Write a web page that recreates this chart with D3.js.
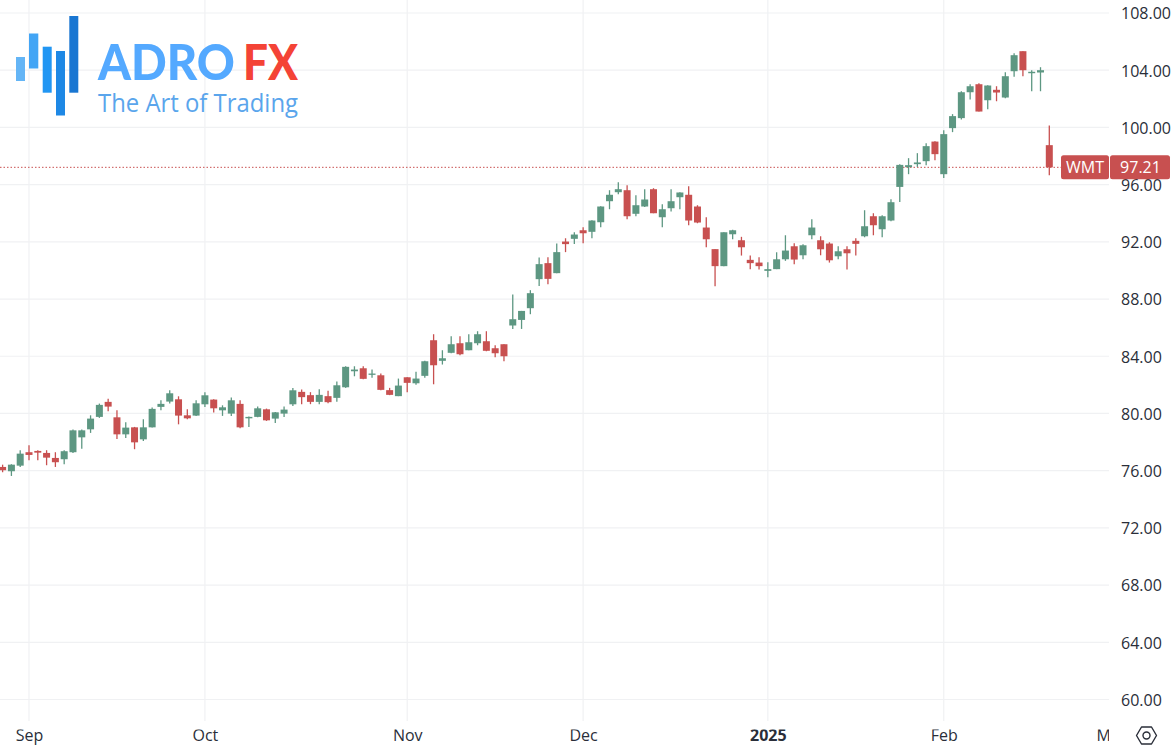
<!DOCTYPE html>
<html><head><meta charset="utf-8">
<script src="https://cdn.jsdelivr.net/npm/d3@7"></script>
<style>
html,body{margin:0;padding:0;background:#fff;overflow:hidden}
svg{display:block}
text{font-family:"Open Sans",sans-serif}
</style></head><body>
<svg id="c" width="1176" height="754"></svg>
<script>
const symbol = "WMT";
const lastPrice = 97.21;
const yTicks = [60,64,68,72,76,80,84,88,92,96,100,104,108];
const xTickSessions = [0,20,43,63,84,104,123];
const xTickLabels = ["Sep","Oct","Nov","Dec","2025","Feb","Mar"];
const firstSession = -3;
const opens = [76.26,75.96,76.35,
77.29,77.38,77.24,76.89,76.80,77.29,78.33,78.89,79.76,80.81,
79.73,78.54,79.03,78.19,79.03,80.46,80.83,80.99,79.87,79.85,
80.64,80.97,80.22,79.99,80.67,79.66,79.76,80.29,79.64,79.99,
80.64,81.51,81.28,80.81,81.21,81.09,81.83,82.95,83.16,82.70,
82.67,81.63,81.21,82.53,82.11,82.63,85.12,83.68,84.24,84.91,
84.42,84.91,85.05,84.56,84.84,86.15,86.54,87.36,89.39,90.51,
89.81,92.02,92.21,92.81,92.70,93.37,94.84,95.47,95.61,93.96,
94.47,95.68,93.72,94.35,95.12,95.29,94.47,93.00,91.49,90.30,
92.53,92.11,90.74,90.55,89.97,90.09,90.78,91.69,91.06,92.46,
92.11,91.88,90.99,91.48,92.07,92.39,93.79,92.88,93.49,95.84,
97.22,97.43,97.64,99.01,96.73,99.95,100.65,102.46,103.02,101.90,
102.63,102.09,103.93,105.33,103.79,103.84,98.76];
const closes = [76.03,76.42,77.19,
77.10,77.26,76.91,76.59,77.36,78.82,78.82,79.64,80.60,80.48,
78.54,79.01,77.98,79.03,80.32,80.67,81.41,79.85,79.66,80.71,
81.27,80.36,80.43,80.92,79.03,79.76,80.36,79.52,80.08,80.27,
81.62,81.14,80.81,81.30,80.79,81.97,83.26,83.07,82.42,82.79,
81.65,81.30,81.95,82.14,82.44,83.65,83.37,83.86,84.84,84.14,
84.98,85.54,84.38,84.21,84.00,86.59,87.17,88.41,90.44,89.41,
91.28,91.84,92.51,92.60,93.49,94.47,95.29,95.68,93.79,94.56,
94.96,94.00,94.28,94.84,95.45,93.49,93.35,92.18,90.30,92.67,
92.81,91.62,90.51,90.30,90.09,90.78,91.39,90.76,91.76,93.00,
91.48,90.71,91.34,91.20,91.86,93.09,93.16,93.79,94.77,97.38,
97.36,97.55,98.69,98.13,99.53,100.79,102.46,102.88,101.11,102.93,
102.44,103.58,105.05,104.00,103.89,104.00,97.21];
const highs = [76.42,76.45,77.43,
77.78,77.43,77.43,77.29,77.43,78.87,78.87,79.87,80.69,81.02,
80.22,79.38,79.06,79.59,80.41,80.92,81.62,81.20,80.29,80.92,
81.48,81.00,80.57,81.11,80.92,79.78,80.48,80.34,80.11,80.48,
81.78,81.67,81.49,81.69,81.58,82.23,83.30,83.30,83.30,83.07,
82.79,81.79,82.44,82.53,82.91,83.68,85.54,84.42,85.40,85.40,
85.54,85.75,85.75,84.77,84.84,88.32,87.17,88.62,90.90,90.93,
91.88,92.25,92.67,93.02,93.51,94.49,95.61,96.17,95.96,95.26,
95.68,95.75,94.63,95.68,95.47,95.89,94.56,93.72,91.49,92.67,
92.84,92.35,91.04,90.92,90.58,91.27,92.46,91.90,91.83,93.58,
92.39,91.97,91.69,91.69,92.25,94.21,94.00,93.86,94.98,97.43,
97.85,98.20,98.90,99.04,99.81,100.93,102.53,103.02,103.09,102.95,
102.88,103.86,105.19,105.33,104.00,104.21,100.13];
const lows = [75.89,75.63,76.26,
76.73,76.73,76.38,76.26,76.45,77.24,77.54,78.64,79.69,80.15,
78.22,78.29,77.50,78.08,79.01,80.22,80.69,79.24,79.59,79.83,
80.46,80.06,79.83,79.83,78.96,79.06,79.73,79.48,79.34,79.76,
80.53,80.65,80.65,80.65,80.72,80.81,81.79,82.60,82.39,82.49,
81.63,81.28,81.21,81.49,82.00,82.49,82.04,83.42,84.21,84.07,
84.42,84.77,84.35,83.93,83.65,85.91,85.91,86.94,88.92,89.04,
89.81,91.28,91.84,91.90,92.25,93.02,94.28,95.33,93.58,93.79,
94.44,94.00,93.02,94.12,94.28,93.16,93.30,91.63,88.90,90.30,
92.18,91.04,90.09,90.06,89.53,90.09,90.67,90.44,90.78,92.18,
91.06,90.55,90.78,90.06,91.04,92.32,92.46,92.32,93.44,94.79,
96.73,97.24,97.36,97.71,96.47,99.67,100.55,101.95,101.11,101.27,
101.83,102.04,103.54,103.58,102.53,102.53,96.66];

const UP="#5d9782", DOWN="#c85050", GRID="#f0f1f3", INK="#2a2e39";
const plotR=1109;
const svg=d3.select("#c");
const x=d3.scaleLinear().domain([0,116]).range([29,1049.3]);
const y=d3.scaleLinear().domain([60,108]).range([699.5,13]);
svg.append("defs").append("clipPath").attr("id","plot").append("rect")
  .attr("x",0).attr("y",0).attr("width",plotR).attr("height",754);

// grid
const grid=svg.append("g").attr("clip-path","url(#plot)");
grid.selectAll("line.h").data(yTicks).join("line").attr("class","h")
  .attr("x1",0).attr("x2",plotR).attr("y1",d=>y(d)).attr("y2",d=>y(d)).attr("stroke",GRID).attr("stroke-width",1.2);
grid.selectAll("line.v").data(xTickSessions).join("line").attr("class","v")
  .attr("x1",d=>x(d)).attr("x2",d=>x(d)).attr("y1",0).attr("y2",721).attr("stroke",GRID).attr("stroke-width",1.2);

// price line
svg.append("line").attr("x1",0).attr("x2",1062).attr("y1",y(lastPrice)).attr("y2",y(lastPrice))
  .attr("stroke",DOWN).attr("stroke-width",1).attr("stroke-dasharray","1.5 2");

// candles
const candles=opens.map((o,i)=>({s:firstSession+i,o,c:closes[i],h:highs[i],l:lows[i]}));
const g=svg.append("g").attr("clip-path","url(#plot)");
g.selectAll("line.w").data(candles).join("line").attr("class","w")
  .attr("x1",d=>x(d.s)).attr("x2",d=>x(d.s)).attr("y1",d=>y(d.h)).attr("y2",d=>y(d.l))
  .attr("stroke",d=>d.c>=d.o?UP:DOWN).attr("stroke-width",1.3);
g.selectAll("rect.b").data(candles).join("rect").attr("class","b")
  .attr("x",d=>x(d.s)-3.5).attr("width",7)
  .attr("y",d=>y(Math.max(d.o,d.c))).attr("height",d=>Math.max(1.2,Math.abs(y(d.o)-y(d.c))))
  .attr("fill",d=>d.c>=d.o?UP:DOWN);

// axes
const yAxis=d3.axisRight(y).tickValues(yTicks).tickFormat(d3.format(".2f")).tickSize(0).tickPadding(0);
const ya=svg.append("g").attr("transform","translate(1121,0.7)").call(yAxis);
ya.select(".domain").remove();
ya.selectAll("text").attr("fill",INK).style("font-size","16px").style("font-family",'"Open Sans",sans-serif');

const xAxis=d3.axisBottom(x).tickValues(xTickSessions).tickFormat((d,i)=>xTickLabels[i]).tickSize(0).tickPadding(0);
const xa=svg.append("g").attr("transform","translate(0,729.5)").attr("clip-path","url(#plot)").call(xAxis);
xa.select(".domain").remove();
xa.selectAll("text").attr("fill",INK).style("font-size","16px").style("font-family",'"Open Sans",sans-serif')
  .style("font-weight",(d,i)=>xTickLabels[i]==="2025"?"700":"400");

// last price tag
const ly=y(lastPrice);
const tag=svg.append("g");
tag.append("rect").attr("x",1061).attr("y",ly-12).attr("width",48).attr("height",24).attr("rx",2.5).attr("fill",DOWN);
tag.append("rect").attr("x",1110).attr("y",ly-12).attr("width",60).attr("height",24).attr("rx",2.5).attr("fill",DOWN);
tag.append("text").attr("x",1085).attr("y",ly+6).attr("text-anchor","middle").attr("fill","#fff").style("font-size","16px").text(symbol);
tag.append("text").attr("x",1140.5).attr("y",ly+6).attr("text-anchor","middle").attr("fill","#fff").style("font-size","16px").text(lastPrice.toFixed(2));

// settings icon
const icon=svg.append("g").attr("transform","translate(1146.5,735.5)").attr("fill","none").attr("stroke",INK).attr("stroke-width",1.4);
icon.append("path").attr("d","M-10 0L-5 -8.5H5L10 0L5 8.5H-5Z").attr("stroke-linejoin","round");
icon.append("circle").attr("r",3.5);

// logo
const logo=svg.append("g");
[[16,57,9,24,"#64b5f6"],[29,33.5,9.3,35,"#42a5f5"],[42.7,46.7,9,46,"#2196f3"],[56,51,9,64.5,"#1e88e5"],[69.3,16,9,76.7,"#1976d2"]]
 .forEach(b=>logo.append("rect").attr("x",b[0]).attr("y",b[1]).attr("width",b[2]).attr("height",b[3]).attr("fill",b[4]));
logo.append("text").attr("x",98).attr("y",80).attr("fill","#54a9ff").style("font-size","50px").style("font-weight",900)
  .style("font-family","Lato,sans-serif").attr("textLength",137).attr("lengthAdjust","spacingAndGlyphs").text("ADRO");
logo.append("text").attr("x",243).attr("y",80).attr("fill","#f44336").style("font-size","50px").style("font-weight",900)
  .style("font-family","Lato,sans-serif").attr("textLength",55).attr("lengthAdjust","spacingAndGlyphs").text("FX");
logo.append("text").attr("x",98).attr("y",112).attr("fill","#5aa5ec").style("font-size","25px").style("font-weight",400)
  .style("font-family",'"Open Sans",sans-serif').attr("textLength",200).attr("lengthAdjust","spacingAndGlyphs").text("The Art of Trading");
</script>
</body></html>
